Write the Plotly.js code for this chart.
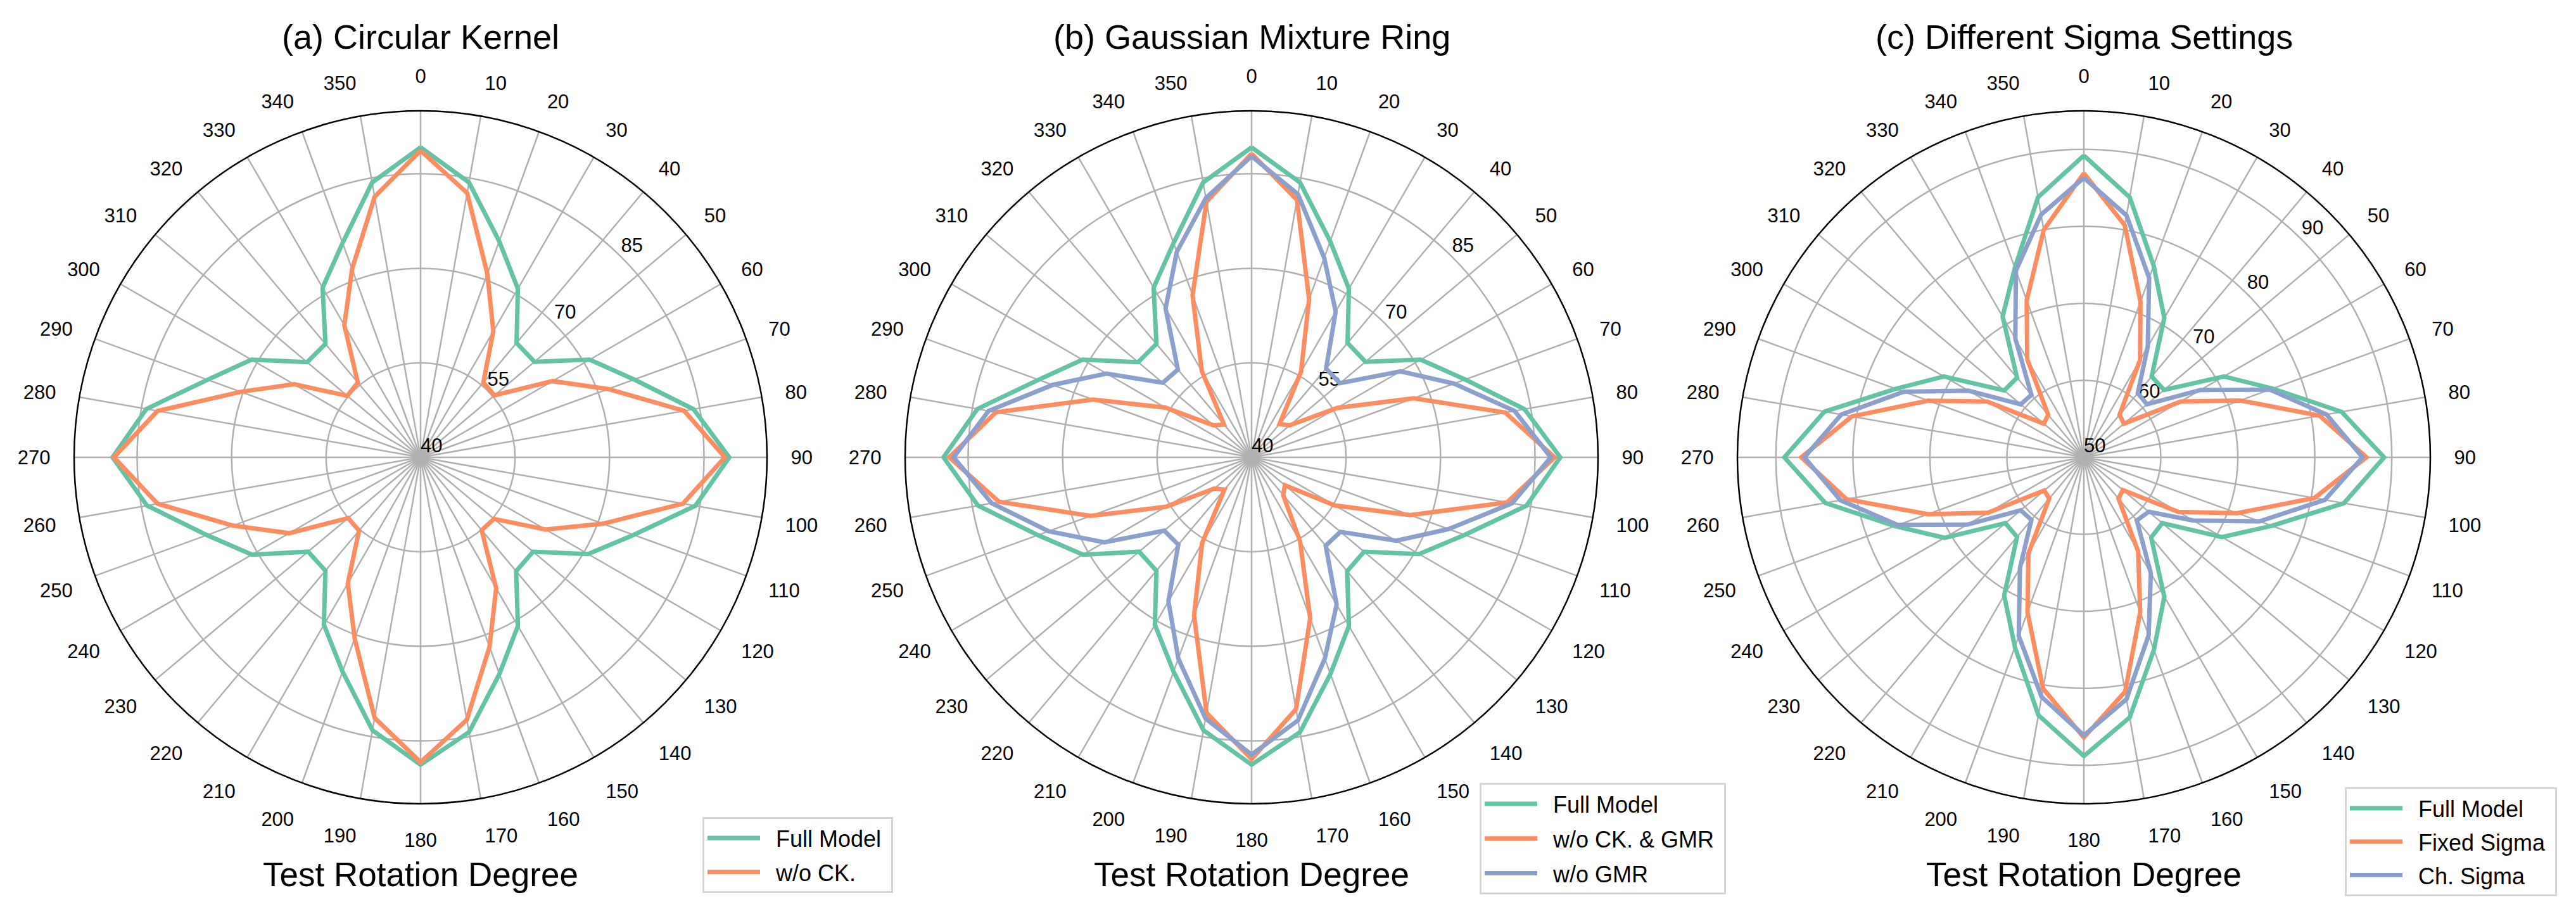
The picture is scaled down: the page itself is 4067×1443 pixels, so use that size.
<!DOCTYPE html>
<html>
<head>
<meta charset="utf-8">
<script src="https://cdn.plot.ly/plotly-3.0.1.min.js"></script>
<style>html,body{margin:0;padding:0;background:#fff;}#chart{width:4067px;height:1443px;}</style>
</head>
<body>
<div id="chart"></div>
<script>
// Angles (degrees) and tick labels
const theta = [0,10,20,30,40,50,60,70,80,90,100,110,120,130,140,150,160,170,180,190,200,210,220,230,240,250,260,270,280,290,300,310,320,330,340,350];
const thetaLabels = theta.map(String);

// Series values (accuracy, %)
const fullModel = [89.2,84.3,76.5,70.9,63.7,63.6,71.0,76.1,84.0,89.0,84.3,76.0,70.7,63.3,63.6,70.9,76.6,84.3,88.8,84.0,76.2,70.7,63.5,63.3,70.9,76.1,84.1,88.9,84.2,76.0,71.0,63.5,63.5,71.1,76.2,84.3];
const woCK = [88.7,82.6,71.0,63.1,55.5,55.3,64.2,71.7,82.5,88.3,82.3,70.8,62.9,55.2,55.1,64.0,72.0,82.3,88.4,82.0,70.6,63.1,55.2,55.0,64.1,71.7,82.4,88.7,82.4,70.4,63.2,55.2,55.5,64.2,71.8,82.0];
const woCKGMR = [88.2,81.5,66.7,55.7,46.9,47.9,55.7,67.4,80.9,88.1,81.2,66.8,55.3,46.9,47.8,55.4,67.2,80.6,87.9,81.2,66.7,55.7,46.7,47.7,55.7,67.2,80.7,88.0,81.2,66.8,55.8,47.9,46.8,55.8,67.4,81.2];
const woGMR = [87.8,82.4,73.7,66.7,58.4,58.3,67.3,74.2,82.4,87.5,82.0,73.3,66.5,58.4,58.3,67.0,74.0,82.4,87.2,82.1,74.0,66.4,58.1,58.1,67.0,74.3,81.9,87.3,82.4,73.6,66.6,58.4,58.2,67.3,74.7,81.8];
const fixedSigma = [86.9,80.6,71.5,64.6,57.2,56.8,64.5,71.6,81.1,86.7,80.4,71.2,64.2,56.6,57.0,64.1,71.4,80.9,86.4,80.5,71.4,64.4,57.0,56.7,64.4,71.6,81.3,86.7,80.6,71.5,64.5,56.8,57.2,64.7,71.7,80.0];
const chSigma = [86.3,81.9,74.8,66.6,60.9,60.7,67.5,75.7,82.0,86.2,81.8,74.3,66.4,61.0,60.7,67.4,74.6,81.9,86.1,81.6,74.7,66.6,60.6,60.7,67.5,75.7,82.1,86.3,82.0,74.9,67.3,60.7,60.6,67.8,75.8,82.0];

// Radial ticks
const rTicksAB = [40,55,70,85];
const rTicksC = [50,60,70,80,90];

// Titles / labels
const titles = ['(a) Circular Kernel','(b) Gaussian Mixture Ring','(c) Different Sigma Settings'];
const xLabel = 'Test Rotation Degree';

const GREEN = '#66c2a5', ORANGE = '#fc8d62', BLUE = '#8da0cb';
const FONT = '"Liberation Sans", Arial, sans-serif';
const NB = '\u00a0';
const RLABEL_ANGLE = 45;

function closed(a){ return a.concat([a[0]]); }
const thetaC = closed(theta);

function tr(vals, name, color, sub, leg){
  return {type:'scatterpolar', mode:'lines', r: closed(vals), theta: thetaC, name: NB+NB+name+NB,
    subplot: sub, legend: leg, legendgroup: sub+name,
    line:{color:color, width:7}, hoverinfo:'skip'};
}
// radial tick labels, drawn at the tick values along the label angle
function rLabels(ticks, sub){
  return {type:'scatterpolar', mode:'text', r: ticks, theta: ticks.map(()=>RLABEL_ANGLE), text: ticks.map(String),
    textposition:'top right', textfont:{family:FONT, size:31, color:'black'}, subplot: sub, showlegend:false, hoverinfo:'skip', cliponaxis:false};
}

const data = [
  rLabels(rTicksAB,'polar'),
  tr(fullModel,'Full Model',GREEN,'polar','legend'),
  tr(woCK,'w/o CK.',ORANGE,'polar','legend'),
  rLabels(rTicksAB,'polar2'),
  tr(fullModel,'Full Model',GREEN,'polar2','legend2'),
  tr(woCKGMR,'w/o CK. & GMR',ORANGE,'polar2','legend2'),
  tr(woGMR,'w/o GMR',BLUE,'polar2','legend2'),
  rLabels(rTicksC,'polar3'),
  tr(fullModel,'Full Model',GREEN,'polar3','legend3'),
  tr(fixedSigma,'Fixed Sigma',ORANGE,'polar3','legend3'),
  tr(chSigma,'Ch. Sigma',BLUE,'polar3','legend3')
];

const W = 4067, H = 1443, R = 547, CY = 722;
const centers = [664, 1976, 3290];
function polar(cx, range, ticks){
  return {
    domain:{x:[(cx-R)/W,(cx+R)/W], y:[1-(CY+R)/H, 1-(CY-R)/H]},
    bgcolor:'white',
    angularaxis:{rotation:90, direction:'clockwise', tickmode:'array', tickvals:theta, ticktext:thetaLabels,
      showline:true, linecolor:'black', linewidth:2.5, showgrid:true, gridcolor:'#b0b0b0', gridwidth:2.5,
      ticks:'outside', ticklen:30, tickcolor:'rgba(0,0,0,0)', tickfont:{family:FONT, size:31, color:'black'}},
    radialaxis:{range:range, tickmode:'array', tickvals:ticks, angle:45, showticklabels:false, showline:false, ticks:'',
      showgrid:true, gridcolor:'#b0b0b0', gridwidth:2.5, layer:'below traces'}
  };
}

function legend(xr, y, anchor, gap){
  return {x:xr/W, y:1-y/H, xanchor:'right', yanchor:anchor, bgcolor:'white', bordercolor:'#d6d6d6', borderwidth:3,
    font:{family:FONT, size:36, color:'black'}, itemwidth:83, traceorder:'grouped', tracegroupgap:gap};
}

const annotations = [];
titles.forEach((t,i)=>{
  annotations.push({text:t, xref:'paper', yref:'paper', x:centers[i]/W, y:1-58/H, xanchor:'center', yanchor:'middle', showarrow:false, font:{family:FONT, size:54, color:'black'}});
  annotations.push({text:xLabel, xref:'paper', yref:'paper', x:centers[i]/W, y:1-1380/H, xanchor:'center', yanchor:'middle', showarrow:false, font:{family:FONT, size:53, color:'black'}});
});

const layout = {
  width:W, height:H, margin:{l:0,r:0,t:0,b:0}, paper_bgcolor:'white',
  font:{family:FONT, color:'black'},
  polar: polar(centers[0],[40,95],rTicksAB),
  polar2: polar(centers[1],[40,95],rTicksAB),
  polar3: polar(centers[2],[50,95],rTicksC),
  legend: legend(1410,1410,'bottom',4),
  legend2: legend(2725,1236,'top',5),
  legend3: legend(4037,1243,'top',3),
  showlegend:true,
  annotations: annotations
};

Plotly.newPlot('chart', data, layout, {displayModeBar:false, staticPlot:true});
</script>
</body>
</html>
